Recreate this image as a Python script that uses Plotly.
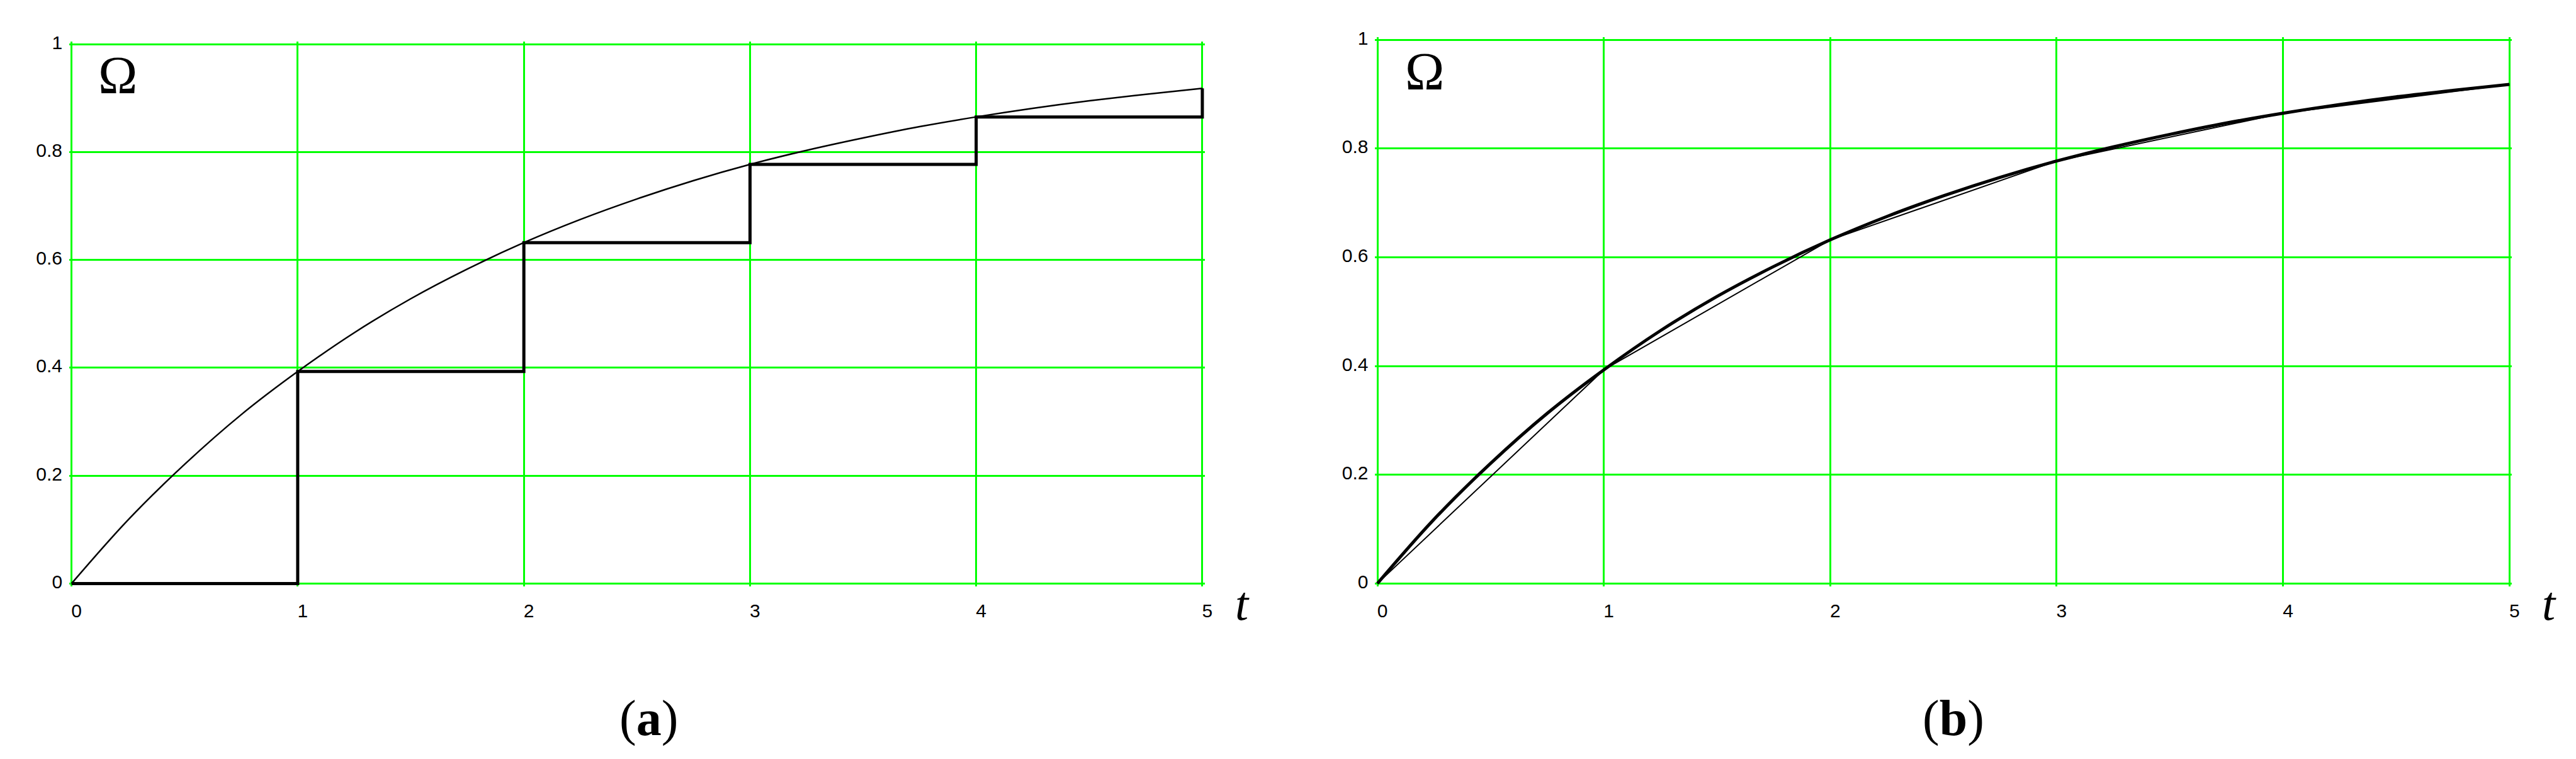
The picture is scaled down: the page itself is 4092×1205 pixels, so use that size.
import plotly.graph_objects as go

# values
T_TICKS = [0, 1, 2, 3, 4, 5]
OMEGA_TICKS = [0, 0.2, 0.4, 0.6, 0.8, 1]

# smooth curve Omega(t), read every 0.25
T_CURVE = [0, 0.25, 0.5, 0.75, 1, 1.25, 1.5, 1.75, 2, 2.25, 2.5,
           2.75, 3, 3.25, 3.5, 3.75, 4, 4.25, 4.5, 4.75, 5]
OMEGA_CURVE = [0, 0.118, 0.221, 0.313, 0.393, 0.465, 0.528, 0.583, 0.632,
               0.675, 0.713, 0.747, 0.777, 0.803, 0.826, 0.847, 0.865,
               0.881, 0.895, 0.907, 0.918]

# values at the integer points (step in (a), chord line in (b))
T_NODES = [0, 1, 2, 3, 4, 5]
OMEGA_NODES = [0, 0.393, 0.632, 0.777, 0.865, 0.918]

GREEN = "#00ff00"
W, H, OFF = 4076, 1189, 8   # body margin of the page is 8 px
PAD_X, PAD_Y = 0.01, 0.005


def fx(px):
    return (px - OFF) / W


def fy(py):
    return 1 - (py - OFF) / H


def domains(x0, x5, y0, y1):
    ux = (x5 - x0) / 5
    uy = y0 - y1
    return ([fx(x0 - PAD_X * ux), fx(x5 + PAD_X * ux)],
            [fy(y0 + PAD_Y * uy), fy(y1 - PAD_Y * uy)])


tick_font = dict(family="Liberation Sans, Arial", size=30, color="black")
serif = "Liberation Serif, Times New Roman"


def xax(dom, anchor):
    return dict(domain=dom, anchor=anchor, range=[-PAD_X, 5 + PAD_X],
                tickvals=T_TICKS, ticktext=[str(v) for v in T_TICKS],
                showgrid=True, gridcolor=GREEN, gridwidth=3, zeroline=False,
                showline=False, ticks="", tickfont=tick_font,
                ticklabelshift=8, ticklabelstandoff=18, layer="below traces",
                fixedrange=True)


def yax(dom, anchor):
    return dict(domain=dom, anchor=anchor, range=[-PAD_Y, 1 + PAD_Y],
                tickvals=OMEGA_TICKS, ticktext=["0", "0.2", "0.4", "0.6", "0.8", "1"],
                showgrid=True, gridcolor=GREEN, gridwidth=3, zeroline=False,
                showline=False, ticks="", tickfont=tick_font,
                ticklabelshift=-3, ticklabelstandoff=10, layer="below traces",
                fixedrange=True)


xa_dom, ya_dom = domains(114, 1916, 930, 56)
xb_dom, yb_dom = domains(2195, 3999, 930, 49)

fig = go.Figure()
# (a) exact curve and step approximation
fig.add_trace(go.Scatter(x=T_CURVE, y=OMEGA_CURVE, mode="lines",
                         line=dict(color="black", width=2.5, shape="spline"),
                         xaxis="x", yaxis="y", showlegend=False))
fig.add_trace(go.Scatter(x=T_NODES, y=OMEGA_NODES, mode="lines",
                         line=dict(color="black", width=5, shape="hv"),
                         xaxis="x", yaxis="y", showlegend=False))
# (b) curve and piecewise-linear approximation
fig.add_trace(go.Scatter(x=T_CURVE, y=OMEGA_CURVE, mode="lines",
                         line=dict(color="black", width=5, shape="spline"),
                         xaxis="x2", yaxis="y2", showlegend=False))
fig.add_trace(go.Scatter(x=T_NODES, y=OMEGA_NODES, mode="lines",
                         line=dict(color="black", width=2),
                         xaxis="x2", yaxis="y2", showlegend=False))


def label(text, px, py, size, family=serif):
    return dict(text=text, x=fx(px), y=fy(py), xref="paper", yref="paper",
                xanchor="center", yanchor="middle", showarrow=False,
                font=dict(family=family, size=size, color="black"))


annotations = [
    label("Ω", 188, 106, 84),
    label("Ω", 2270, 100, 84),
    label("<i>t</i>", 1980, 962, 76),
    label("<i>t</i>", 4062, 962, 76),
    label("(<b>a</b>)", 1034, 1149, 80),
    label("(<b>b</b>)", 3113, 1149, 80),
]

fig.update_layout(
    width=W, height=H,
    margin=dict(l=0, r=0, t=0, b=0),
    paper_bgcolor="white", plot_bgcolor="white",
    xaxis=xax(xa_dom, "y"), yaxis=yax(ya_dom, "x"),
    xaxis2=xax(xb_dom, "y2"), yaxis2=yax(yb_dom, "x2"),
    annotations=annotations,
)

fig.write_html("out.html")
